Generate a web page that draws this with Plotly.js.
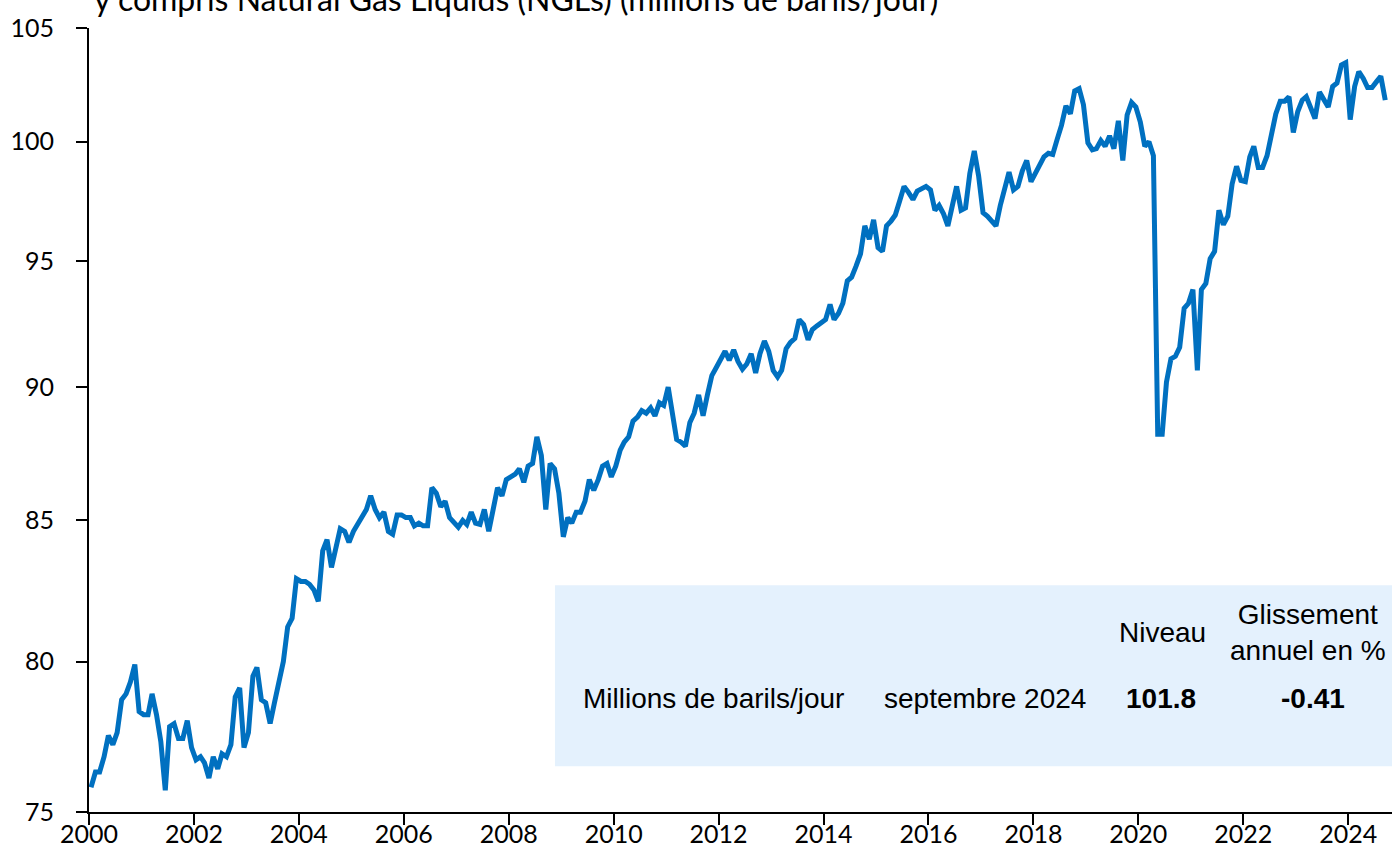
<!DOCTYPE html>
<html>
<head>
<meta charset="utf-8">
<script src="https://cdn.plot.ly/plotly-3.0.1.min.js"></script>
<style>html,body{margin:0;padding:0;background:#fff;}#chart{width:1392px;height:848px;}</style>
</head>
<body>
<div id="chart"></div>
<script>
// Production mondiale de pétrole (millions de barils/jour), données mensuelles
const startYear = 2000;
const y2000 = [75.8, 76.3, 76.3, 76.8, 77.5, 77.2, 77.6, 78.7, 78.9, 79.3, 79.9, 78.3];
const y2001 = [78.2, 78.2, 78.9, 78.2, 77.3, 75.7, 77.8, 77.9, 77.4, 77.4, 78.0, 77.1];
const y2002 = [76.7, 76.8, 76.6, 76.1, 76.8, 76.4, 76.9, 76.8, 77.2, 78.8, 79.1, 77.1];
const y2003 = [77.6, 79.5, 79.8, 78.7, 78.6, 77.9, 78.6, 79.3, 80.0, 81.2, 81.5, 82.9];
const y2004 = [82.8, 82.8, 82.7, 82.5, 82.1, 83.9, 84.3, 83.3, 84.0, 84.7, 84.6, 84.2];
const y2005 = [84.6, 84.9, 85.1, 85.4, 85.9, 85.4, 85.1, 85.3, 84.6, 84.5, 85.2, 85.2];
const y2006 = [85.1, 85.1, 84.8, 84.9, 84.8, 84.8, 86.2, 86.0, 85.5, 85.7, 85.1, 84.9];
const y2007 = [84.75, 85.0, 84.85, 85.3, 84.9, 84.85, 85.4, 84.6, 85.4, 86.2, 85.9, 86.5];
const y2008 = [86.6, 86.7, 86.9, 86.4, 87.0, 87.1, 88.1, 87.4, 85.4, 87.1, 86.9, 86.0];
const y2009 = [84.4, 85.1, 84.9, 85.3, 85.3, 85.7, 86.5, 86.1, 86.5, 87.0, 87.1, 86.6];
const y2010 = [87.0, 87.6, 87.9, 88.1, 88.7, 88.85, 89.1, 89.0, 89.2, 88.9, 89.4, 89.3];
const y2011 = [90.0, 88.85, 88.0, 87.9, 87.75, 88.65, 89.0, 89.7, 88.9, 89.7, 90.45, 90.75];
const y2012 = [91.05, 91.4, 91.05, 91.45, 91.0, 90.7, 90.9, 91.3, 90.55, 91.3, 91.8, 91.4];
const y2013 = [90.65, 90.4, 90.65, 91.5, 91.75, 91.9, 92.65, 92.45, 91.85, 92.25, 92.4, 92.5];
const y2014 = [92.65, 93.25, 92.65, 92.9, 93.3, 94.2, 94.35, 94.8, 95.3, 96.45, 95.9, 96.7];
const y2015 = [95.55, 95.4, 96.45, 96.65, 96.9, 97.5, 98.1, 97.85, 97.55, 97.9, 98.0, 98.1];
const y2016 = [97.95, 97.1, 97.3, 96.95, 96.45, 97.3, 98.1, 97.1, 97.2, 98.65, 99.6, 98.55];
const y2017 = [97.0, 96.85, 96.65, 96.45, 97.3, 98.1, 98.7, 97.95, 98.1, 98.75, 99.2, 98.3];
const y2018 = [98.65, 98.95, 99.35, 99.5, 99.45, 100.1, 100.7, 101.55, 101.2, 102.2, 102.3, 101.6];
const y2019 = [99.95, 99.65, 99.7, 100.05, 99.8, 100.25, 99.7, 100.9, 99.2, 101.15, 101.7, 101.5];
const y2020 = [100.85, 99.8, 100.0, 99.4, 88.2, 88.2, 90.2, 91.1, 91.2, 91.55, 93.1, 93.3];
const y2021 = [93.85, 90.65, 93.85, 94.1, 95.1, 95.4, 97.1, 96.5, 96.85, 98.2, 98.95, 98.35];
const y2022 = [98.3, 99.35, 99.8, 98.9, 98.9, 99.4, 100.4, 101.2, 101.75, 101.75, 101.95, 100.4];
const y2023 = [101.3, 101.8, 101.95, 101.45, 101.0, 102.15, 101.8, 101.5, 102.4, 102.55, 103.35, 103.45];
const y2024 = [100.95, 102.4, 103.05, 102.75, 102.35, 102.35, 102.6, 102.85, 101.8];

const yearly = [y2000, y2001, y2002, y2003, y2004, y2005, y2006, y2007, y2008, y2009, y2010, y2011, y2012,
                y2013, y2014, y2015, y2016, y2017, y2018, y2019, y2020, y2021, y2022, y2023, y2024];

const yTicks = [75, 80, 85, 90, 95, 100, 105];
const xTickYears = [2000, 2002, 2004, 2006, 2008, 2010, 2012, 2014, 2016, 2018, 2020, 2022, 2024];

const titleText = 'y compris Natural Gas Liquids (NGLs) (millions de barils/jour)';
const tableHeaderLevel = 'Niveau';
const tableHeaderChange = 'Glissement<br>annuel en %';
const tableRowLabel = 'Millions de barils/jour';
const tableRowDate = 'septembre 2024';
const tableRowLevel = '101.8';
const tableRowChange = '-0.41';

const xs = [], ys = [];
yearly.forEach((arr, i) => {
  arr.forEach((v, m) => {
    const mm = String(m + 1).padStart(2, '0');
    xs.push((startYear + i) + '-' + mm + '-15');
    ys.push(v);
  });
});

const tickFont = {family: 'Lato, "Noto Sans", sans-serif', size: 25, color: '#000'};
const tableFont = {family: '"Liberation Sans", Arial, sans-serif', size: 28, color: '#000'};

const trace = {
  x: xs, y: ys, type: 'scatter', mode: 'lines',
  line: {color: '#0070C0', width: 5},
  hoverinfo: 'skip'
};

const layout = {
  width: 1392, height: 848,
  margin: {l: 89, r: 0, t: 28, b: 36, pad: 0},
  paper_bgcolor: '#fff', plot_bgcolor: '#fff',
  showlegend: false,
  xaxis: {
    type: 'date', range: ['2000-01-01', '2024-11-01'],
    tickvals: xTickYears.map(y => y + '-01-01'),
    ticktext: xTickYears.map(String),
    showline: true, linecolor: '#000', linewidth: 2,
    ticks: 'outside', ticklen: 11, tickwidth: 2, tickcolor: '#000',
    ticklabelstandoff: -12,
    tickfont: tickFont, showgrid: false, zeroline: false, fixedrange: true
  },
  yaxis: {
    type: 'log', range: [Math.log10(75), Math.log10(105)],
    tickvals: yTicks, ticktext: yTicks.map(String),
    showline: true, linecolor: '#000', linewidth: 2,
    ticks: 'outside', ticklen: 11, tickwidth: 2, tickcolor: '#000',
    ticklabelstandoff: 17,
    tickfont: tickFont, showgrid: false, zeroline: false, fixedrange: true
  },
  shapes: [{
    type: 'rect', xref: 'paper', yref: 'paper',
    x0: 0.3576, x1: 1.0, y0: 0.0583, y1: 0.2893,
    fillcolor: '#E4F1FD', line: {width: 0}, layer: 'above'
  }],
  annotations: [
    {text: titleText, xref: 'paper', yref: 'paper', x: 0.0023, y: 1.0373,
     xanchor: 'left', yanchor: 'middle', showarrow: false,
     font: {family: 'Lato, "Noto Sans", sans-serif', size: 32, color: '#000'}},
    {text: tableHeaderLevel, xref: 'paper', yref: 'paper', x: 0.8235, y: 0.2293,
     xanchor: 'center', yanchor: 'middle', showarrow: false, font: tableFont},
    {text: tableHeaderChange, xref: 'paper', yref: 'paper', x: 0.9355, y: 0.2293,
     xanchor: 'center', yanchor: 'middle', align: 'center', showarrow: false, font: tableFont},
    {text: tableRowLabel, xref: 'paper', yref: 'paper', x: 0.4794, y: 0.1451,
     xanchor: 'center', yanchor: 'middle', showarrow: false, font: tableFont},
    {text: tableRowDate, xref: 'paper', yref: 'paper', x: 0.6876, y: 0.1451,
     xanchor: 'center', yanchor: 'middle', showarrow: false, font: tableFont},
    {text: '<b>' + tableRowLevel + '</b>', xref: 'paper', yref: 'paper', x: 0.8227, y: 0.1451,
     xanchor: 'center', yanchor: 'middle', showarrow: false, font: tableFont},
    {text: '<b>' + tableRowChange + '</b>', xref: 'paper', yref: 'paper', x: 0.9393, y: 0.1451,
     xanchor: 'center', yanchor: 'middle', showarrow: false, font: tableFont}
  ]
};

Plotly.newPlot('chart', [trace], layout, {staticPlot: true, displayModeBar: false});
</script>
</body>
</html>
